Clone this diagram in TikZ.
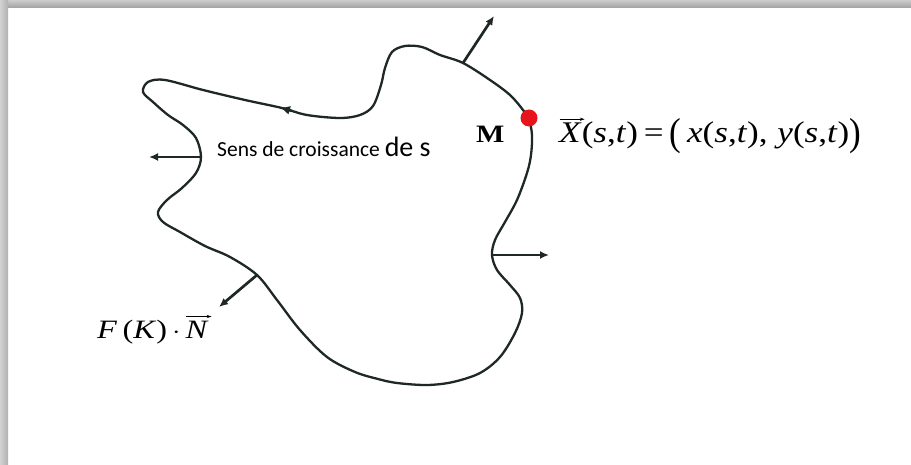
\documentclass[tikz,border=0pt]{standalone}
\usepackage{fontspec}
\usepackage{graphicx}
\usetikzlibrary{arrows.meta}
\setmainfont{Liberation Serif}
\newfontfamily\calib{Carlito}
\definecolor{curvecol}{HTML}{1E2824}
\definecolor{dotred}{HTML}{E8141B}
\tikzset{
  contour/.style={draw=curvecol, line width=2.3pt, line join=round},
  normalarrow/.style={draw=curvecol, line width=2.7pt, -{Latex[length=9pt,width=8pt]}},
  lbl/.style={inner sep=0pt, anchor=base west}
}
\newcommand\arrowover[1]{\setbox0\hbox{#1}\leavevmode\rlap{\raisebox{\dimexpr\ht0+2.5pt\relax}{\tikz[x=1pt,y=1pt]\draw[line width=0.7pt,-{Stealth[length=4pt,width=3.2pt]}] (-1,0)--(\the\dimexpr\wd0+1pt\relax,0);}}\box0}
\begin{document}
\begin{tikzpicture}[x=1pt,y=-1pt]
\useasboundingbox (0,0) rectangle (911,465);
\fill[white] (0,0) rectangle (911,465);
% frame shadow
\shade[top color=gray!40, bottom color=gray!72] (0,0) rectangle (911,7.5);
\shade[left color=gray!35, right color=gray!62] (0,0) rectangle (8,465);

% contour
\draw[contour] plot[smooth cycle, tension=0.55] coordinates {
(148,82) (165,80) (203,90) (245,100) (282,108) (307,115) (340,118) (360,115)
(373,106) (381,85) (385,68) (392,52) (405,46) (422,47) (440,55) (463,63)
(490,80) (510,95) (523,110) (529,120) (532,135) (531,155) (527,173) (517,200)
(505,222) (495,240) (492,255) (497,270) (510,285) (520,298) (522,313) (515,333)
(500,357) (480,373) (453,382) (427,385) (397,383) (378,379) (355,372) (327,357)
(300,330) (277,300) (257,275) (230,257) (205,246) (180,232) (163,222) (158,212)
(167,200) (182,188) (196,173) (201,157) (196,138) (183,125) (168,115) (153,102)
(143,92)};

% direction arrow on the curve
\coordinate (dirA) at (292,111);
\coordinate (dirB) at (280,107.5);
\draw[draw=curvecol, line width=2.3pt, -{Latex[length=10pt,width=9pt]}] (dirA) -- (dirB);

% normals
\coordinate (bTop) at (463,63);   \coordinate (tTop) at (494,16);
\coordinate (bLeft) at (201,157); \coordinate (tLeft) at (149,157);
\coordinate (bRight) at (492,255);\coordinate (tRight) at (549,255);
\coordinate (bLow) at (257,275);  \coordinate (tLow) at (219,307);
\draw[normalarrow] (bTop) -- (tTop);
\draw[normalarrow] (bLeft) -- (tLeft);
\draw[normalarrow] (bRight) -- (tRight);
\draw[normalarrow] (bLow) -- (tLow);

% point M
\fill[dotred] (529,118) circle (8.5);

% labels
\node[lbl] (sens) at (217,157) {\calib\fontsize{21.5}{24}\selectfont Sens de croissance \fontsize{28}{30}\selectfont de s};
\node[lbl] (M) at (476,143) {\scalebox{1.2}[1]{\fontsize{25}{27}\selectfont\bfseries M}};
\node[lbl] (X) at (559,143) {\scalebox{1.17}[1]{\fontsize{30}{32}\selectfont
  \arrowover{\itshape X\/}(\textit{s},\textit{t})\,=\,\raisebox{-2.5pt}{\scalebox{1}[1.3]{(}}\,\textit{x}(\textit{s},\textit{t}),\;\textit{y}(\textit{s},\textit{t})\raisebox{-2.5pt}{\scalebox{1}[1.3]{)}}}};
\node[lbl] (F) at (97,338) {\scalebox{1.22}[1]{\fontsize{26.5}{28}\selectfont
  \textit{F}\,(\textit{K})$\,\cdot\,$\arrowover{\itshape N\/}}};
\end{tikzpicture}
\end{document}
